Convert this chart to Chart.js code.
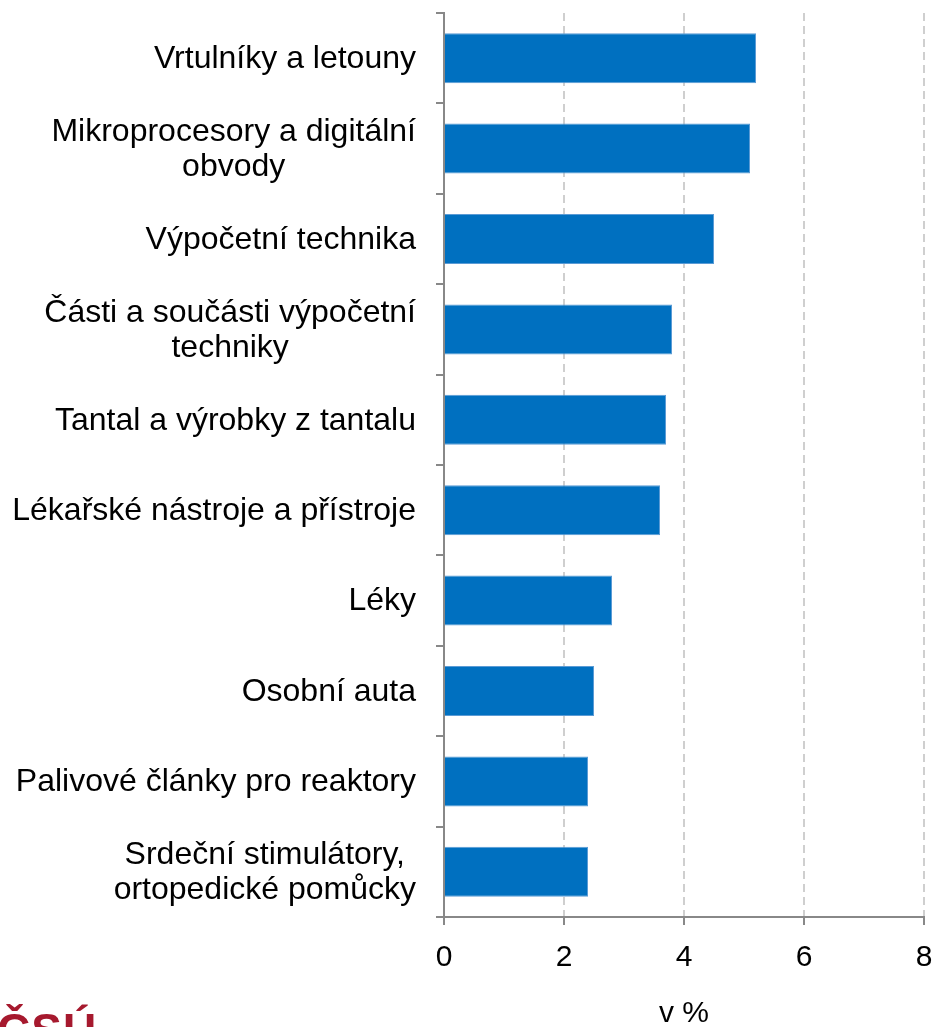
<!DOCTYPE html>
<html lang="cs">
<head>
<meta charset="utf-8">
<title>Vývoz high-tech zboží</title>
<script src="https://cdn.jsdelivr.net/npm/chart.js@4.4.1/dist/chart.umd.min.js"></script>
<style>
  html, body { margin: 0; padding: 0; background: #fff; overflow: hidden; }
  #wrap { position: relative; width: 933px; height: 1027px; overflow: hidden; }
  #logo {
    position: absolute; left: -3px; top: 1003px;
    font: bold 46px "Liberation Sans", Arial, sans-serif;
    color: #a6192e; letter-spacing: 1px;
  }
</style>
</head>
<body>
<div id="wrap">
  <canvas id="barchart"></canvas>
  <div id="logo">ČSÚ</div>
</div>
<script>
const categories = [
    'Vrtulníky a letouny',
    ['Mikroprocesory a digitální', 'obvody'],
    'Výpočetní technika',
    ['Části a součásti výpočetní', 'techniky'],
    'Tantal a výrobky z tantalu',
    'Lékařské nástroje a přístroje',
    'Léky',
    'Osobní auta',
    'Palivové články pro reaktory',
    ['Srdeční stimulátory,', 'ortopedické pomůcky']
];
const shares = [5.2, 5.1, 4.5, 3.8, 3.7, 3.6, 2.8, 2.5, 2.4, 2.4];
const xTicks = [0, 2, 4, 6, 8];
const axisTitle = 'v %';

const FONT = '"Liberation Sans", Arial, sans-serif';
const AXIS_GREY = '#888888';

// Excel-style category labels: block right-aligned to the axis, lines centred inside it
const centredLabels = {
    id: 'centredLabels',
    afterDraw(chart) {
        const scale = chart.scales.y;
        const ctx = chart.ctx;
        const right = scale.right - 8 - 20;
        const lh = 35;
        ctx.save();
        ctx.font = '32px ' + FONT;
        ctx.fillStyle = '#000';
        ctx.textAlign = 'center';
        ctx.textBaseline = 'middle';
        categories.forEach((cat, i) => {
            const lines = Array.isArray(cat) ? cat : [cat];
            const w = Math.max(...lines.map(l => ctx.measureText(l).width));
            const cx = right - w / 2;
            const yc = scale.getPixelForTick(i) + 1;
            const y0 = yc - (lines.length - 1) * lh / 2;
            lines.forEach((l, j) => ctx.fillText(l, cx, y0 + j * lh));
        });
        ctx.restore();
    }
};

const ctx = document.getElementById('barchart').getContext('2d');

const myBarChart = new Chart(ctx, {
    type: 'bar',
    data: {
        labels: categories,
        datasets: [{
            label: axisTitle,
            data: shares,
            backgroundColor: '#0070C0',
            borderColor: '#5B9BD5',
            borderWidth: 1,
            barPercentage: 0.553,
            categoryPercentage: 1
        }]
    },
    options: {
        indexAxis: 'y',
        responsive: true,
        maintainAspectRatio: false,
        animation: false,
        layout: { padding: { top: 13, left: 0, right: 0, bottom: 0 } },
        plugins: {
            legend: { display: false },
            tooltip: { enabled: false }
        },
        scales: {
            x: {
                min: 0,
                max: 8,
                afterBuildTicks: (scale) => { scale.ticks = xTicks.map(v => ({ value: v })); },
                afterFit: (scale) => { scale.paddingRight = 9; },
                grid: {
                    color: '#cfcfcf',
                    lineWidth: 2,
                    tickColor: AXIS_GREY,
                    tickLength: 8
                },
                border: { color: AXIS_GREY, width: 2, dash: [8, 5] },
                ticks: {
                    color: '#000',
                    padding: 15,
                    font: { family: FONT, size: 30 }
                },
                title: {
                    display: true,
                    text: axisTitle,
                    color: '#000',
                    font: { family: FONT, size: 30, lineHeight: 0.9 },
                    padding: { top: 9, bottom: 0 }
                }
            },
            y: {
                offset: true,
                afterFit: (scale) => { scale.width = 444; },
                grid: {
                    offset: true,
                    drawOnChartArea: false,
                    tickColor: AXIS_GREY,
                    tickLength: 8,
                    lineWidth: 2
                },
                border: { color: AXIS_GREY, width: 2 },
                ticks: { display: false }
            }
        }
    },
    plugins: [centredLabels]
});
</script>
</body>
</html>
